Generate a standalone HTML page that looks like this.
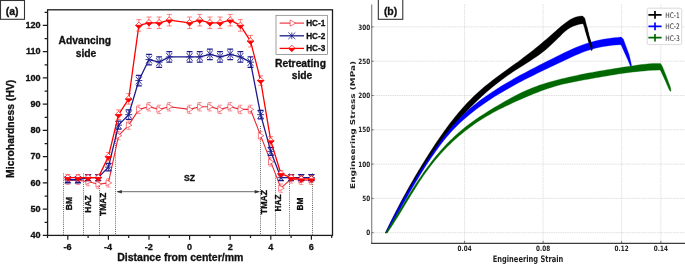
<!DOCTYPE html>
<html lang="en"><head><meta charset="utf-8"><title>Figure</title>
<style>html,body{margin:0;padding:0;background:#fff}svg{display:block;will-change:transform}</style>
</head><body>
<svg width="685" height="269" viewBox="0 0 685 269">
<rect width="685" height="269" fill="#fff"/>
<rect x="0.5" y="0.5" width="24" height="18.8" fill="#fff" stroke="#333" stroke-width="1.1"/>
<text x="12.2" y="15" text-anchor="middle" font-family="'Liberation Sans',sans-serif" font-weight="bold" font-size="10.5" fill="#111" stroke="#111" stroke-width="0.3">(a)</text>
<path d="M63.5 173.4V235.4M83.5 173.4V235.4M99.5 173.4V235.4M115.5 126V235.4M260.5 126V235.4M275.5 173.4V235.4M289.5 173.4V235.4M312.5 173.4V235.4" stroke="#333" stroke-width="0.75" stroke-dasharray="1 1.1" fill="none"/>
<path d="M117 191.7H259.5" stroke="#444" stroke-width="0.8" fill="none"/>
<path d="M116.6 191.7l5.2 -1.7v3.4zM259.9 191.7l-5.2 -1.7v3.4z" fill="#333"/>
<polyline points="67.8,180.28 77.95,180.28 88.1,181.59 98.25,184.21 108.4,182.9 118.55,135.65 128.7,125.15 138.85,109.4 149,106.78 159.15,109.4 169.3,106.78 189.6,109.4 199.75,106.78 209.9,106.78 220.05,109.4 230.2,106.78 240.35,109.4 250.5,109.4 260.65,135.65 270.8,161.9 280.95,188.15 291.1,178.96 301.25,180.28 311.4,180.28" fill="none" stroke="#ee2430" stroke-width="1.1" stroke-linejoin="round"/>
<path d="M65.7 176.08H69.9M65.7 184.47H69.9M75.85 176.08H80.05M75.85 184.47H80.05M86 177.39H90.2M86 185.79H90.2M96.15 180.01H100.35M96.15 188.41H100.35M106.3 178.7H110.5M106.3 187.1H110.5M116.45 131.45H120.65M116.45 139.85H120.65M126.6 120.95H130.8M126.6 129.35H130.8M136.75 105.2H140.95M136.75 113.6H140.95M146.9 102.58H151.1M146.9 110.98H151.1M157.05 105.2H161.25M157.05 113.6H161.25M167.2 102.58H171.4M167.2 110.98H171.4M187.5 105.2H191.7M187.5 113.6H191.7M197.65 102.58H201.85M197.65 110.98H201.85M207.8 102.58H212M207.8 110.98H212M217.95 105.2H222.15M217.95 113.6H222.15M228.1 102.58H232.3M228.1 110.98H232.3M238.25 105.2H242.45M238.25 113.6H242.45M248.4 105.2H252.6M248.4 113.6H252.6M258.55 131.45H262.75M258.55 139.85H262.75M268.7 157.7H272.9M268.7 166.1H272.9M278.85 183.95H283.05M278.85 192.35H283.05M289 174.76H293.2M289 183.16H293.2M299.15 176.08H303.35M299.15 184.47H303.35M309.3 176.08H313.5M309.3 184.47H313.5" fill="none" stroke="#f4565c" stroke-width="0.6"/>
<path d="M67.8 176.08V184.47M77.95 176.08V184.47M88.1 177.39V185.79M98.25 180.01V188.41M108.4 178.7V187.1M118.55 131.45V139.85M128.7 120.95V129.35M138.85 105.2V113.6M149 102.58V110.98M159.15 105.2V113.6M169.3 102.58V110.98M189.6 105.2V113.6M199.75 102.58V110.98M209.9 102.58V110.98M220.05 105.2V113.6M230.2 102.58V110.98M240.35 105.2V113.6M250.5 105.2V113.6M260.65 131.45V139.85M270.8 157.7V166.1M280.95 183.95V192.35M291.1 174.76V183.16M301.25 176.08V184.47M311.4 176.08V184.47" fill="none" stroke="#f4565c" stroke-width="0.6"/>
<path d="M65.5 177.18v6.2l5.6 -3.1z" fill="#fff" stroke="#ee3640" stroke-width="0.65"/>
<path d="M75.65 177.18v6.2l5.6 -3.1z" fill="#fff" stroke="#ee3640" stroke-width="0.65"/>
<path d="M85.8 178.49v6.2l5.6 -3.1z" fill="#fff" stroke="#ee3640" stroke-width="0.65"/>
<path d="M95.95 181.11v6.2l5.6 -3.1z" fill="#fff" stroke="#ee3640" stroke-width="0.65"/>
<path d="M106.1 179.8v6.2l5.6 -3.1z" fill="#fff" stroke="#ee3640" stroke-width="0.65"/>
<path d="M116.25 132.55v6.2l5.6 -3.1z" fill="#fff" stroke="#ee3640" stroke-width="0.65"/>
<path d="M126.4 122.05v6.2l5.6 -3.1z" fill="#fff" stroke="#ee3640" stroke-width="0.65"/>
<path d="M136.55 106.3v6.2l5.6 -3.1z" fill="#fff" stroke="#ee3640" stroke-width="0.65"/>
<path d="M146.7 103.68v6.2l5.6 -3.1z" fill="#fff" stroke="#ee3640" stroke-width="0.65"/>
<path d="M156.85 106.3v6.2l5.6 -3.1z" fill="#fff" stroke="#ee3640" stroke-width="0.65"/>
<path d="M167 103.68v6.2l5.6 -3.1z" fill="#fff" stroke="#ee3640" stroke-width="0.65"/>
<path d="M187.3 106.3v6.2l5.6 -3.1z" fill="#fff" stroke="#ee3640" stroke-width="0.65"/>
<path d="M197.45 103.68v6.2l5.6 -3.1z" fill="#fff" stroke="#ee3640" stroke-width="0.65"/>
<path d="M207.6 103.68v6.2l5.6 -3.1z" fill="#fff" stroke="#ee3640" stroke-width="0.65"/>
<path d="M217.75 106.3v6.2l5.6 -3.1z" fill="#fff" stroke="#ee3640" stroke-width="0.65"/>
<path d="M227.9 103.68v6.2l5.6 -3.1z" fill="#fff" stroke="#ee3640" stroke-width="0.65"/>
<path d="M238.05 106.3v6.2l5.6 -3.1z" fill="#fff" stroke="#ee3640" stroke-width="0.65"/>
<path d="M248.2 106.3v6.2l5.6 -3.1z" fill="#fff" stroke="#ee3640" stroke-width="0.65"/>
<path d="M258.35 132.55v6.2l5.6 -3.1z" fill="#fff" stroke="#ee3640" stroke-width="0.65"/>
<path d="M268.5 158.8v6.2l5.6 -3.1z" fill="#fff" stroke="#ee3640" stroke-width="0.65"/>
<path d="M278.65 185.05v6.2l5.6 -3.1z" fill="#fff" stroke="#ee3640" stroke-width="0.65"/>
<path d="M288.8 175.86v6.2l5.6 -3.1z" fill="#fff" stroke="#ee3640" stroke-width="0.65"/>
<path d="M298.95 177.18v6.2l5.6 -3.1z" fill="#fff" stroke="#ee3640" stroke-width="0.65"/>
<path d="M309.1 177.18v6.2l5.6 -3.1z" fill="#fff" stroke="#ee3640" stroke-width="0.65"/>
<polyline points="67.8,179.75 77.95,179.75 88.1,177.65 98.25,177.65 108.4,167.15 118.55,125.15 128.7,114.65 138.85,80.53 149,59.53 159.15,62.15 169.3,56.9 189.6,56.9 199.75,56.9 209.9,54.28 220.05,56.9 230.2,54.28 240.35,56.9 250.5,62.15 260.65,114.65 270.8,151.4 280.95,177.65 291.1,177.65 301.25,177.65 311.4,177.65" fill="none" stroke="#1c1c8c" stroke-width="1.3" stroke-linejoin="round"/>
<path d="M64.9 176.73H70.7M64.9 182.77H70.7M75.05 176.73H80.85M75.05 182.77H80.85M85.2 174.63H91M85.2 180.67H91M95.35 174.63H101.15M95.35 180.67H101.15M105.5 163.47H111.3M105.5 170.83H111.3M115.65 121.21H121.45M115.65 129.09H121.45M125.8 109.93H131.6M125.8 119.38H131.6M135.95 75.28H141.75M135.95 85.78H141.75M146.1 54.28H151.9M146.1 64.78H151.9M156.25 56.9H162.05M156.25 67.4H162.05M166.4 51.65H172.2M166.4 62.15H172.2M186.7 51.65H192.5M186.7 62.15H192.5M196.85 51.65H202.65M196.85 62.15H202.65M207 49.03H212.8M207 59.53H212.8M217.15 51.65H222.95M217.15 62.15H222.95M227.3 49.03H233.1M227.3 59.53H233.1M237.45 51.65H243.25M237.45 62.15H243.25M247.6 56.9H253.4M247.6 67.4H253.4M257.75 110.45H263.55M257.75 118.85H263.55M267.9 147.46H273.7M267.9 155.34H273.7M278.05 174.63H283.85M278.05 180.67H283.85M288.2 174.63H294M288.2 180.67H294M298.35 174.63H304.15M298.35 180.67H304.15M308.5 174.63H314.3M308.5 180.67H314.3" fill="none" stroke="#1c1c8c" stroke-width="1.3"/>
<path d="M67.8 176.73V182.77M77.95 176.73V182.77M88.1 174.63V180.67M98.25 174.63V180.67M108.4 163.47V170.83M118.55 121.21V129.09M128.7 109.93V119.38M138.85 75.28V85.78M149 54.28V64.78M159.15 56.9V67.4M169.3 51.65V62.15M189.6 51.65V62.15M199.75 51.65V62.15M209.9 49.03V59.53M220.05 51.65V62.15M230.2 49.03V59.53M240.35 51.65V62.15M250.5 56.9V67.4M260.65 110.45V118.85M270.8 147.46V155.34M280.95 174.63V180.67M291.1 174.63V180.67M301.25 174.63V180.67M311.4 174.63V180.67" fill="none" stroke="#1c1c8c" stroke-width="0.8"/>
<path d="M64.8 176.33l6 6.84M70.8 176.33l-6 6.84M64.3 179.75h7M74.95 176.33l6 6.84M80.95 176.33l-6 6.84M74.45 179.75h7M85.1 174.23l6 6.84M91.1 174.23l-6 6.84M84.6 177.65h7M95.25 174.23l6 6.84M101.25 174.23l-6 6.84M94.75 177.65h7M105.4 163.15l6 8M111.4 163.15l-6 8M104.9 167.15h7M115.55 121.15l6 8M121.55 121.15l-6 8M115.05 125.15h7M125.7 110.65l6 8M131.7 110.65l-6 8M125.2 114.65h7M135.85 76.53l6 8M141.85 76.53l-6 8M135.35 80.53h7M146 55.53l6 8M152 55.53l-6 8M145.5 59.53h7M156.15 58.15l6 8M162.15 58.15l-6 8M155.65 62.15h7M166.3 52.9l6 8M172.3 52.9l-6 8M165.8 56.9h7M186.6 52.9l6 8M192.6 52.9l-6 8M186.1 56.9h7M196.75 52.9l6 8M202.75 52.9l-6 8M196.25 56.9h7M206.9 50.28l6 8M212.9 50.28l-6 8M206.4 54.28h7M217.05 52.9l6 8M223.05 52.9l-6 8M216.55 56.9h7M227.2 50.28l6 8M233.2 50.28l-6 8M226.7 54.28h7M237.35 52.9l6 8M243.35 52.9l-6 8M236.85 56.9h7M247.5 58.15l6 8M253.5 58.15l-6 8M247 62.15h7M257.65 110.65l6 8M263.65 110.65l-6 8M257.15 114.65h7M267.8 147.4l6 8M273.8 147.4l-6 8M267.3 151.4h7M277.95 174.23l6 6.84M283.95 174.23l-6 6.84M277.45 177.65h7M288.1 174.23l6 6.84M294.1 174.23l-6 6.84M287.6 177.65h7M298.25 174.23l6 6.84M304.25 174.23l-6 6.84M297.75 177.65h7M308.4 174.23l6 6.84M314.4 174.23l-6 6.84M307.9 177.65h7" stroke="#1c1c8c" stroke-width="0.85" fill="none"/>
<polyline points="67.8,177.65 77.95,177.65 88.1,177.65 98.25,177.65 108.4,156.65 118.55,114.65 128.7,98.9 138.85,25.4 149,22.78 159.15,22.78 169.3,20.15 189.6,22.78 199.75,20.15 209.9,22.78 220.05,22.78 230.2,20.15 240.35,25.4 250.5,41.15 260.65,80.53 270.8,140.9 280.95,173.71 291.1,177.65 301.25,178.96 311.4,178.96" fill="none" stroke="#ff0000" stroke-width="1.3" stroke-linejoin="round"/>
<path d="M65.3 174.5H70.3M65.3 180.8H70.3M75.45 174.5H80.45M75.45 180.8H80.45M85.6 174.5H90.6M85.6 180.8H90.6M95.75 174.5H100.75M95.75 180.8H100.75M105.9 152.45H110.9M105.9 160.85H110.9M116.05 109.93H121.05M116.05 119.38H121.05M126.2 93.65H131.2M126.2 104.15H131.2M136.35 19.63H141.35M136.35 31.18H141.35M146.5 17H151.5M146.5 28.55H151.5M156.65 17H161.65M156.65 28.55H161.65M166.8 14.38H171.8M166.8 25.93H171.8M187.1 17H192.1M187.1 28.55H192.1M197.25 14.38H202.25M197.25 25.93H202.25M207.4 17H212.4M207.4 28.55H212.4M217.55 17H222.55M217.55 28.55H222.55M227.7 14.38H232.7M227.7 25.93H232.7M237.85 19.63H242.85M237.85 31.18H242.85M248 35.38H253M248 46.93H253M258.15 75.8H263.15M258.15 85.25H263.15M268.3 136.7H273.3M268.3 145.1H273.3M278.45 170.56H283.45M278.45 176.86H283.45M288.6 174.5H293.6M288.6 180.8H293.6M298.75 175.81H303.75M298.75 182.11H303.75M308.9 175.81H313.9M308.9 182.11H313.9" fill="none" stroke="#ff3030" stroke-width="0.6"/>
<path d="M67.8 174.5V180.8M77.95 174.5V180.8M88.1 174.5V180.8M98.25 174.5V180.8M108.4 152.45V160.85M118.55 109.93V119.38M128.7 93.65V104.15M138.85 19.63V31.18M149 17V28.55M159.15 17V28.55M169.3 14.38V25.93M189.6 17V28.55M199.75 14.38V25.93M209.9 17V28.55M220.05 17V28.55M230.2 14.38V25.93M240.35 19.63V31.18M250.5 35.38V46.93M260.65 75.8V85.25M270.8 136.7V145.1M280.95 170.56V176.86M291.1 174.5V180.8M301.25 175.81V182.11M311.4 175.81V182.11" fill="none" stroke="#ff3030" stroke-width="0.6"/>
<path d="M64.5 177.65l3.3 -3.3l3.3 3.3z" fill="#fff" stroke="#ff0000" stroke-width="0.7"/>
<path d="M64.5 177.65h6.6l-3.3 3.3z" fill="#ff0000" stroke="#ff0000" stroke-width="0.7"/>
<path d="M74.65 177.65l3.3 -3.3l3.3 3.3z" fill="#fff" stroke="#ff0000" stroke-width="0.7"/>
<path d="M74.65 177.65h6.6l-3.3 3.3z" fill="#ff0000" stroke="#ff0000" stroke-width="0.7"/>
<path d="M84.8 177.65l3.3 -3.3l3.3 3.3z" fill="#fff" stroke="#ff0000" stroke-width="0.7"/>
<path d="M84.8 177.65h6.6l-3.3 3.3z" fill="#ff0000" stroke="#ff0000" stroke-width="0.7"/>
<path d="M94.95 177.65l3.3 -3.3l3.3 3.3z" fill="#fff" stroke="#ff0000" stroke-width="0.7"/>
<path d="M94.95 177.65h6.6l-3.3 3.3z" fill="#ff0000" stroke="#ff0000" stroke-width="0.7"/>
<path d="M105.1 156.65l3.3 -3.3l3.3 3.3z" fill="#fff" stroke="#ff0000" stroke-width="0.7"/>
<path d="M105.1 156.65h6.6l-3.3 3.3z" fill="#ff0000" stroke="#ff0000" stroke-width="0.7"/>
<path d="M115.25 114.65l3.3 -3.3l3.3 3.3z" fill="#fff" stroke="#ff0000" stroke-width="0.7"/>
<path d="M115.25 114.65h6.6l-3.3 3.3z" fill="#ff0000" stroke="#ff0000" stroke-width="0.7"/>
<path d="M125.4 98.9l3.3 -3.3l3.3 3.3z" fill="#fff" stroke="#ff0000" stroke-width="0.7"/>
<path d="M125.4 98.9h6.6l-3.3 3.3z" fill="#ff0000" stroke="#ff0000" stroke-width="0.7"/>
<path d="M135.55 25.4l3.3 -3.3l3.3 3.3z" fill="#fff" stroke="#ff0000" stroke-width="0.7"/>
<path d="M135.55 25.4h6.6l-3.3 3.3z" fill="#ff0000" stroke="#ff0000" stroke-width="0.7"/>
<path d="M145.7 22.78l3.3 -3.3l3.3 3.3z" fill="#fff" stroke="#ff0000" stroke-width="0.7"/>
<path d="M145.7 22.78h6.6l-3.3 3.3z" fill="#ff0000" stroke="#ff0000" stroke-width="0.7"/>
<path d="M155.85 22.78l3.3 -3.3l3.3 3.3z" fill="#fff" stroke="#ff0000" stroke-width="0.7"/>
<path d="M155.85 22.78h6.6l-3.3 3.3z" fill="#ff0000" stroke="#ff0000" stroke-width="0.7"/>
<path d="M166 20.15l3.3 -3.3l3.3 3.3z" fill="#fff" stroke="#ff0000" stroke-width="0.7"/>
<path d="M166 20.15h6.6l-3.3 3.3z" fill="#ff0000" stroke="#ff0000" stroke-width="0.7"/>
<path d="M186.3 22.78l3.3 -3.3l3.3 3.3z" fill="#fff" stroke="#ff0000" stroke-width="0.7"/>
<path d="M186.3 22.78h6.6l-3.3 3.3z" fill="#ff0000" stroke="#ff0000" stroke-width="0.7"/>
<path d="M196.45 20.15l3.3 -3.3l3.3 3.3z" fill="#fff" stroke="#ff0000" stroke-width="0.7"/>
<path d="M196.45 20.15h6.6l-3.3 3.3z" fill="#ff0000" stroke="#ff0000" stroke-width="0.7"/>
<path d="M206.6 22.78l3.3 -3.3l3.3 3.3z" fill="#fff" stroke="#ff0000" stroke-width="0.7"/>
<path d="M206.6 22.78h6.6l-3.3 3.3z" fill="#ff0000" stroke="#ff0000" stroke-width="0.7"/>
<path d="M216.75 22.78l3.3 -3.3l3.3 3.3z" fill="#fff" stroke="#ff0000" stroke-width="0.7"/>
<path d="M216.75 22.78h6.6l-3.3 3.3z" fill="#ff0000" stroke="#ff0000" stroke-width="0.7"/>
<path d="M226.9 20.15l3.3 -3.3l3.3 3.3z" fill="#fff" stroke="#ff0000" stroke-width="0.7"/>
<path d="M226.9 20.15h6.6l-3.3 3.3z" fill="#ff0000" stroke="#ff0000" stroke-width="0.7"/>
<path d="M237.05 25.4l3.3 -3.3l3.3 3.3z" fill="#fff" stroke="#ff0000" stroke-width="0.7"/>
<path d="M237.05 25.4h6.6l-3.3 3.3z" fill="#ff0000" stroke="#ff0000" stroke-width="0.7"/>
<path d="M247.2 41.15l3.3 -3.3l3.3 3.3z" fill="#fff" stroke="#ff0000" stroke-width="0.7"/>
<path d="M247.2 41.15h6.6l-3.3 3.3z" fill="#ff0000" stroke="#ff0000" stroke-width="0.7"/>
<path d="M257.35 80.53l3.3 -3.3l3.3 3.3z" fill="#fff" stroke="#ff0000" stroke-width="0.7"/>
<path d="M257.35 80.53h6.6l-3.3 3.3z" fill="#ff0000" stroke="#ff0000" stroke-width="0.7"/>
<path d="M267.5 140.9l3.3 -3.3l3.3 3.3z" fill="#fff" stroke="#ff0000" stroke-width="0.7"/>
<path d="M267.5 140.9h6.6l-3.3 3.3z" fill="#ff0000" stroke="#ff0000" stroke-width="0.7"/>
<path d="M277.65 173.71l3.3 -3.3l3.3 3.3z" fill="#fff" stroke="#ff0000" stroke-width="0.7"/>
<path d="M277.65 173.71h6.6l-3.3 3.3z" fill="#ff0000" stroke="#ff0000" stroke-width="0.7"/>
<path d="M287.8 177.65l3.3 -3.3l3.3 3.3z" fill="#fff" stroke="#ff0000" stroke-width="0.7"/>
<path d="M287.8 177.65h6.6l-3.3 3.3z" fill="#ff0000" stroke="#ff0000" stroke-width="0.7"/>
<path d="M297.95 178.96l3.3 -3.3l3.3 3.3z" fill="#fff" stroke="#ff0000" stroke-width="0.7"/>
<path d="M297.95 178.96h6.6l-3.3 3.3z" fill="#ff0000" stroke="#ff0000" stroke-width="0.7"/>
<path d="M308.1 178.96l3.3 -3.3l3.3 3.3z" fill="#fff" stroke="#ff0000" stroke-width="0.7"/>
<path d="M308.1 178.96h6.6l-3.3 3.3z" fill="#ff0000" stroke="#ff0000" stroke-width="0.7"/>
<rect x="47.6" y="9.8" width="284.9" height="225.6" fill="none" stroke="#1c1c1c" stroke-width="1.3"/>
<path d="M47.6 235.4h-4.8M47.6 209.15h-4.8M47.6 182.9h-4.8M47.6 156.65h-4.8M47.6 130.4h-4.8M47.6 104.15h-4.8M47.6 77.9h-4.8M47.6 51.65h-4.8M47.6 25.4h-4.8M47.6 222.28h-3M47.6 196.03h-3M47.6 169.78h-3M47.6 143.53h-3M47.6 117.28h-3M47.6 91.03h-3M47.6 64.78h-3M47.6 38.53h-3M47.6 12.28h-3M67.8 235.4v4.4M108.4 235.4v4.4M149 235.4v4.4M189.6 235.4v4.4M230.2 235.4v4.4M270.8 235.4v4.4M311.4 235.4v4.4M47.5 235.4v2.5M88.1 235.4v2.5M128.7 235.4v2.5M169.3 235.4v2.5M209.9 235.4v2.5M250.5 235.4v2.5M291.1 235.4v2.5M331.7 235.4v2.5" stroke="#1c1c1c" stroke-width="1.2" fill="none"/>
<g font-family="'Liberation Sans',sans-serif" font-weight="bold" font-size="9.1" fill="#111" stroke="#111" stroke-width="0.3">
<text x="40.6" y="238.2" text-anchor="end">40</text>
<text x="40.6" y="211.95" text-anchor="end">50</text>
<text x="40.6" y="185.7" text-anchor="end">60</text>
<text x="40.6" y="159.45" text-anchor="end">70</text>
<text x="40.6" y="133.2" text-anchor="end">80</text>
<text x="40.6" y="106.95" text-anchor="end">90</text>
<text x="40.6" y="80.7" text-anchor="end">100</text>
<text x="40.6" y="54.45" text-anchor="end">110</text>
<text x="40.6" y="28.2" text-anchor="end">120</text>
<text x="67.5" y="249.9" text-anchor="middle">-6</text>
<text x="108.1" y="249.9" text-anchor="middle">-4</text>
<text x="148.7" y="249.9" text-anchor="middle">-2</text>
<text x="189.6" y="249.9" text-anchor="middle">0</text>
<text x="230.2" y="249.9" text-anchor="middle">2</text>
<text x="270.8" y="249.9" text-anchor="middle">4</text>
<text x="311.4" y="249.9" text-anchor="middle">6</text>
</g>
<text x="180.3" y="261.2" text-anchor="middle" font-family="'Liberation Sans',sans-serif" font-weight="bold" font-size="10.5" fill="#111" stroke="#111" stroke-width="0.3">Distance from center/mm</text>
<text transform="translate(13.6 128.8) rotate(-90)" text-anchor="middle" font-family="'Liberation Sans',sans-serif" font-weight="bold" font-size="10.4" fill="#111" stroke="#111" stroke-width="0.3">Microhardness (HV)</text>
<g font-family="'Liberation Sans',sans-serif" font-weight="bold" font-size="10.3" fill="#111" stroke="#111" stroke-width="0.3" text-anchor="middle">
<text x="84.8" y="44.4">Advancing</text><text x="86" y="57.3">side</text>
<text x="300.5" y="66.9">Retreating</text><text x="302" y="79.4">side</text>
</g>
<g font-family="'Liberation Sans',sans-serif" font-weight="bold" font-size="8" fill="#111" stroke="#111" stroke-width="0.3" text-anchor="middle">
<text x="189.6" y="181.2" font-size="8.6">SZ</text>
<text transform="translate(71.9 203.6) rotate(-90)" font-size="8.6">BM</text>
<text transform="translate(91.2 204) rotate(-90)" font-size="8.5">HAZ</text>
<text transform="translate(106.1 204.3) rotate(-90)" font-size="8.4">TMAZ</text>
<text transform="translate(267.4 202) rotate(-90)" font-size="8.8">TMAZ</text>
<text transform="translate(280.9 203) rotate(-90)" font-size="8.2">HAZ</text>
<text transform="translate(303.1 204) rotate(-90)" font-size="8.4">BM</text>
</g>
<rect x="276" y="15.3" width="51.6" height="39.1" fill="#fff" stroke="#777" stroke-width="0.7"/>
<path d="M279.6 23.1H304" stroke="#ee2430" stroke-width="1.1" fill="none"/>
<path d="M290.1 20v6.2l5.6 -3.1z" fill="#fff" stroke="#ee3640" stroke-width="0.7"/>
<path d="M279.6 35.8H304" stroke="#1c1c8c" stroke-width="1.3" fill="none"/>
<path d="M288.3 32.5l7 6.6M295.3 32.5l-7 6.6M291.8 32.4v6.8" stroke="#1c1c8c" stroke-width="0.8" fill="none"/>
<path d="M279.6 48.4H304" stroke="#ff0000" stroke-width="1.3" fill="none"/>
<path d="M288.5 48.4l3.3 -3.3l3.3 3.3z" fill="#fff" stroke="#ff0000" stroke-width="0.7"/>
<path d="M288.5 48.4h6.6l-3.3 3.3z" fill="#ff0000" stroke="#ff0000" stroke-width="0.7"/>
<g font-family="'Liberation Sans',sans-serif" font-weight="bold" font-size="8.2" fill="#111" stroke="#111" stroke-width="0.3">
<text x="306.2" y="26.1">HC-1</text>
<text x="306.2" y="38.8">HC-2</text>
<text x="306.2" y="51.4">HC-3</text>
</g>
<path d="M371.7 232.7H685M371.7 198.4H685M371.7 164.1H685M371.7 129.8H685M371.7 95.5H685M371.7 61.2H685M371.7 26.9H685M464.6 4.5V243.4M543.1 4.5V243.4M621.6 4.5V243.4M660.85 4.5V243.4" stroke="#c0c0c0" stroke-width="0.5" stroke-dasharray="1.5 0.8" fill="none"/>
<polygon points="385.3,232.91 386.75,229.86 388.22,226.82 389.7,223.78 391.19,220.75 392.69,217.74 394.21,214.73 395.74,211.73 397.29,208.73 398.84,205.75 400.41,202.77 402,199.8 403.59,196.84 405.2,193.89 406.83,190.95 408.46,188.01 410.12,185.08 411.78,182.16 413.46,179.25 415.16,176.34 416.86,173.44 418.59,170.55 420.32,167.67 422.08,164.79 423.84,161.93 425.62,159.06 427.42,156.21 429.23,153.36 431.06,150.52 432.9,147.69 434.76,144.87 436.63,142.06 438.53,139.26 440.45,136.48 442.38,133.71 444.34,130.96 446.33,128.23 448.34,125.52 450.38,122.83 452.44,120.17 454.54,117.53 456.66,114.92 458.82,112.34 461.01,109.79 463.23,107.28 465.49,104.79 467.78,102.35 470.12,99.94 472.49,97.57 474.9,95.24 477.35,92.95 479.84,90.7 482.38,88.5 484.95,86.34 487.56,84.22 490.2,82.13 492.87,80.07 495.56,78.03 498.27,76.02 500.99,74.02 503.73,72.03 506.47,70.05 509.22,68.07 511.96,66.1 514.7,64.12 517.44,62.13 520.16,60.14 522.86,58.12 525.55,56.09 528.21,54.04 530.86,51.97 533.49,49.88 536.1,47.77 538.7,45.64 541.28,43.5 543.85,41.33 546.41,39.15 548.95,36.95 551.49,34.74 554.03,32.52 556.58,30.29 559.14,28.07 561.72,25.85 564.35,23.69 567.05,21.67 569.86,19.85 572.8,18.29 575.9,17.08 579.17,16.29 582.63,16 584.8,18.2 589.3,36.8 592.3,46.5 592,50.3 591.4,50.3 590.8,48 589,42.7 583.4,24.5 582.64,23.75 579.31,24.29 576.1,25.13 573.03,26.29 570.13,27.77 567.41,29.55 564.87,31.6 562.45,33.83 560.09,36.16 557.75,38.51 555.41,40.83 553.03,43.12 550.63,45.37 548.19,47.56 545.69,49.69 543.14,51.74 540.53,53.72 537.88,55.65 535.19,57.52 532.46,59.36 529.71,61.16 526.94,62.94 524.16,64.71 521.38,66.48 518.59,68.25 515.82,70.03 513.06,71.84 510.32,73.68 507.61,75.56 504.93,77.47 502.27,79.42 499.64,81.41 497.04,83.43 494.46,85.48 491.92,87.56 489.39,89.67 486.9,91.82 484.43,93.99 481.99,96.2 479.57,98.43 477.19,100.69 474.83,102.97 472.5,105.29 470.19,107.62 467.92,109.98 465.67,112.37 463.44,114.78 461.25,117.21 459.07,119.66 456.93,122.13 454.8,124.63 452.71,127.15 450.63,129.68 448.58,132.24 446.55,134.82 444.55,137.41 442.56,140.02 440.6,142.65 438.66,145.3 436.74,147.96 434.84,150.64 432.96,153.34 431.1,156.05 429.26,158.77 427.44,161.51 425.64,164.26 423.85,167.02 422.08,169.8 420.33,172.59 418.6,175.38 416.88,178.19 415.17,181.01 413.49,183.84 411.81,186.68 410.15,189.53 408.51,192.38 406.88,195.24 405.26,198.11 403.65,200.99 402.06,203.87 400.48,206.75 398.91,209.65 397.35,212.54 395.8,215.44 394.26,218.34 392.74,221.25 391.22,224.16 389.71,227.06 388.2,229.98 386.71,232.89" fill="#000" stroke="#000" stroke-width="0.3" stroke-linejoin="round"/>
<polygon points="385.42,232.91 387.01,229.68 388.62,226.45 390.25,223.24 391.9,220.04 393.58,216.85 395.27,213.67 396.98,210.51 398.71,207.35 400.46,204.2 402.23,201.07 404.01,197.95 405.82,194.83 407.64,191.73 409.48,188.64 411.34,185.56 413.21,182.49 415.11,179.42 417.02,176.37 418.94,173.33 420.88,170.3 422.84,167.27 424.82,164.26 426.81,161.25 428.81,158.26 430.83,155.27 432.87,152.29 434.92,149.32 436.99,146.37 439.08,143.43 441.2,140.51 443.35,137.61 445.53,134.74 447.75,131.91 450.01,129.11 452.31,126.36 454.66,123.65 457.07,120.99 459.53,118.39 462.06,115.84 464.63,113.35 467.27,110.91 469.96,108.54 472.7,106.22 475.49,103.96 478.33,101.75 481.21,99.59 484.13,97.48 487.08,95.41 490.06,93.38 493.06,91.39 496.09,89.44 499.13,87.51 502.2,85.62 505.28,83.76 508.39,81.93 511.5,80.13 514.63,78.35 517.78,76.6 520.93,74.87 524.1,73.16 527.27,71.47 530.45,69.79 533.64,68.13 536.84,66.49 540.04,64.85 543.25,63.23 546.46,61.61 549.68,59.99 552.9,58.38 556.13,56.77 559.36,55.17 562.6,53.58 565.85,52.01 569.11,50.49 572.39,49.01 575.7,47.58 579.03,46.23 582.39,44.95 585.79,43.77 589.21,42.68 592.67,41.69 596.16,40.79 599.68,40 603.21,39.3 606.77,38.69 610.34,38.17 613.93,37.74 617.52,37.39 621.11,37.12 623.3,38.9 629.3,55.3 631.5,65 631.3,66.8 630.8,66.8 630.3,66 627.8,59.8 621.1,44.9 619.62,44.64 616.11,44.92 612.6,45.26 609.1,45.68 605.61,46.19 602.14,46.78 598.69,47.47 595.27,48.27 591.89,49.19 588.55,50.22 585.24,51.36 581.96,52.59 578.71,53.91 575.48,55.29 572.26,56.72 569.07,58.2 565.88,59.69 562.7,61.2 559.52,62.72 556.34,64.22 553.16,65.73 549.99,67.24 546.82,68.76 543.65,70.28 540.5,71.8 537.34,73.34 534.19,74.89 531.06,76.45 527.93,78.03 524.8,79.62 521.69,81.23 518.59,82.86 515.5,84.51 512.43,86.19 509.37,87.9 506.32,89.63 503.29,91.39 500.27,93.18 497.27,95.01 494.28,96.87 491.32,98.77 488.37,100.7 485.45,102.68 482.55,104.69 479.69,106.75 476.85,108.85 474.05,110.99 471.28,113.17 468.56,115.39 465.87,117.66 463.23,119.98 460.64,122.35 458.09,124.76 455.61,127.22 453.17,129.74 450.8,132.31 448.49,134.94 446.23,137.61 444.01,140.33 441.85,143.08 439.72,145.87 437.63,148.69 435.58,151.53 433.55,154.4 431.56,157.28 429.59,160.19 427.65,163.11 425.73,166.05 423.83,169.01 421.96,171.98 420.1,174.96 418.27,177.96 416.45,180.97 414.65,183.99 412.86,187.01 411.09,190.05 409.32,193.1 407.57,196.15 405.83,199.2 404.09,202.26 402.37,205.33 400.64,208.39 398.92,211.46 397.2,214.53 395.49,217.59 393.77,220.66 392.05,223.72 390.32,226.77 388.6,229.82 386.86,232.87" fill="#0000ff" stroke="#0000ff" stroke-width="0.3" stroke-linejoin="round"/>
<polygon points="586.6,26 589.3,36.8 592.3,46.5 592,50.3 591.4,50.3 590.8,48 589,42.7 585.2,30" fill="#000" stroke="#000" stroke-width="0.3" stroke-linejoin="round"/>
<polygon points="385.65,232.92 387.69,229.67 389.71,226.41 391.72,223.14 393.72,219.86 395.72,216.57 397.71,213.28 399.7,209.98 401.69,206.69 403.69,203.39 405.7,200.11 407.71,196.82 409.74,193.55 411.79,190.29 413.85,187.05 415.94,183.82 418.05,180.6 420.19,177.41 422.36,174.25 424.56,171.1 426.8,167.99 429.08,164.9 431.41,161.85 433.77,158.83 436.19,155.85 438.66,152.91 441.18,150.01 443.75,147.15 446.38,144.34 449.07,141.59 451.81,138.88 454.6,136.24 457.45,133.65 460.35,131.13 463.31,128.68 466.31,126.3 469.37,123.98 472.47,121.72 475.61,119.51 478.79,117.35 482,115.24 485.24,113.16 488.51,111.12 491.79,109.11 495.09,107.12 498.4,105.15 501.72,103.2 505.06,101.28 508.42,99.4 511.8,97.56 515.2,95.77 518.62,94.03 522.07,92.36 525.55,90.75 529.06,89.22 532.6,87.76 536.17,86.39 539.78,85.11 543.43,83.91 547.09,82.78 550.79,81.71 554.49,80.7 558.22,79.73 561.95,78.8 565.69,77.9 569.44,77.04 573.19,76.2 576.95,75.39 580.72,74.61 584.49,73.85 588.26,73.12 592.04,72.41 595.82,71.71 599.61,71.04 603.4,70.39 607.19,69.75 610.98,69.13 614.78,68.53 618.58,67.93 622.38,67.35 626.19,66.78 630,66.22 633.8,65.67 637.61,65.12 641.43,64.61 645.24,64.16 649.07,63.79 652.9,63.54 656.75,63.43 660.6,63.5 662.3,66.2 666.8,77.4 670.5,87.4 671,91.1 670.3,91.3 669.3,89.9 665.5,81.2 660.5,70.4 659.3,70 655.52,70.15 651.75,70.35 647.99,70.6 644.23,70.9 640.47,71.24 636.72,71.63 632.97,72.05 629.23,72.52 625.49,73.01 621.76,73.53 618.03,74.09 614.3,74.67 610.57,75.27 606.85,75.88 603.13,76.52 599.42,77.17 595.7,77.83 591.99,78.5 588.27,79.17 584.56,79.84 580.84,80.52 577.13,81.21 573.43,81.93 569.73,82.68 566.05,83.48 562.38,84.35 558.73,85.29 555.11,86.3 551.5,87.4 547.91,88.56 544.35,89.79 540.8,91.08 537.26,92.42 533.74,93.8 530.24,95.23 526.75,96.7 523.28,98.19 519.82,99.71 516.37,101.25 512.93,102.81 509.51,104.39 506.1,106.01 502.72,107.66 499.36,109.35 496.02,111.08 492.71,112.86 489.43,114.69 486.19,116.57 482.97,118.52 479.79,120.52 476.65,122.6 473.55,124.73 470.49,126.93 467.46,129.19 464.49,131.51 461.55,133.89 458.66,136.32 455.82,138.81 453.02,141.36 450.28,143.95 447.58,146.6 444.94,149.3 442.34,152.05 439.8,154.85 437.32,157.69 434.89,160.57 432.52,163.51 430.2,166.48 427.95,169.49 425.74,172.54 423.58,175.62 421.46,178.73 419.37,181.87 417.32,185.03 415.3,188.2 413.29,191.4 411.31,194.61 409.34,197.83 407.38,201.05 405.42,204.28 403.47,207.51 401.51,210.73 399.54,213.95 397.56,217.16 395.55,220.36 393.53,223.53 391.48,226.69 389.39,229.83 387.27,232.94" fill="#006800" stroke="#006800" stroke-width="0.3" stroke-linejoin="round"/>
<path d="M371.7 4.5V243.4" stroke="#868686" stroke-width="1.2" fill="none"/>
<path d="M371.1 243.4H685" stroke="#3c3c3c" stroke-width="1.3" fill="none"/>
<path d="M464.6 243.4v-2.6M543.1 243.4v-2.6M621.6 243.4v-2.6M660.85 243.4v-2.6M371.7 232.7h2M371.7 198.4h2M371.7 164.1h2M371.7 129.8h2M371.7 95.5h2M371.7 61.2h2M371.7 26.9h2" stroke="#444" stroke-width="0.7" fill="none"/>
<rect x="378.3" y="-1" width="24.5" height="20.3" fill="#fff" stroke="#222" stroke-width="1"/>
<text x="390.6" y="14.6" text-anchor="middle" font-family="'Liberation Sans',sans-serif" font-weight="bold" font-size="10.5" fill="#111" stroke="#111" stroke-width="0.3">(b)</text>
<g font-family="'DejaVu Sans',sans-serif" font-weight="bold" font-size="7.3" fill="#222">
<text transform="translate(370.2 235.3) scale(0.78 1)" text-anchor="end">0</text>
<text transform="translate(370.2 201) scale(0.78 1)" text-anchor="end">50</text>
<text transform="translate(370.2 166.7) scale(0.78 1)" text-anchor="end">100</text>
<text transform="translate(370.2 132.4) scale(0.78 1)" text-anchor="end">150</text>
<text transform="translate(370.2 98.1) scale(0.78 1)" text-anchor="end">200</text>
<text transform="translate(370.2 63.8) scale(0.78 1)" text-anchor="end">250</text>
<text transform="translate(370.2 29.5) scale(0.78 1)" text-anchor="end">300</text>
<text transform="translate(464.6 251.3) scale(0.78 1)" text-anchor="middle">0.04</text>
<text transform="translate(543.1 251.3) scale(0.78 1)" text-anchor="middle">0.08</text>
<text transform="translate(621.6 251.3) scale(0.78 1)" text-anchor="middle">0.12</text>
<text transform="translate(660.85 251.3) scale(0.78 1)" text-anchor="middle">0.14</text>
</g>
<text transform="translate(528 262.1) scale(0.745 1)" text-anchor="middle" font-family="'DejaVu Sans',sans-serif" font-weight="bold" font-size="9" fill="#222">Engineering Strain</text>
<text transform="translate(355.0 124.9) rotate(-90) scale(1 0.74)" text-anchor="middle" font-family="'DejaVu Sans',sans-serif" font-weight="bold" font-size="8.95" fill="#222">Engineering Stress (MPa)</text>
<rect x="647.2" y="8.2" width="34.5" height="36.4" rx="1.5" fill="#fff" stroke="#d0d0d0" stroke-width="0.8"/>
<path d="M648.4 14.9H661.6M655 11.1V18.7" stroke="#000" stroke-width="1.7" fill="none"/>
<text transform="translate(665.2 17.7) scale(0.78 1)" font-family="'DejaVu Sans',sans-serif" font-size="7.6" fill="#222">HC-1</text>
<path d="M648.4 26.4H661.6M655 22.6V30.2" stroke="#0000ff" stroke-width="1.7" fill="none"/>
<text transform="translate(665.2 29.2) scale(0.78 1)" font-family="'DejaVu Sans',sans-serif" font-size="7.6" fill="#222">HC-2</text>
<path d="M648.4 37.7H661.6M655 33.9V41.5" stroke="#006800" stroke-width="1.7" fill="none"/>
<text transform="translate(665.2 40.5) scale(0.78 1)" font-family="'DejaVu Sans',sans-serif" font-size="7.6" fill="#222">HC-3</text>
</svg>
</body></html>
